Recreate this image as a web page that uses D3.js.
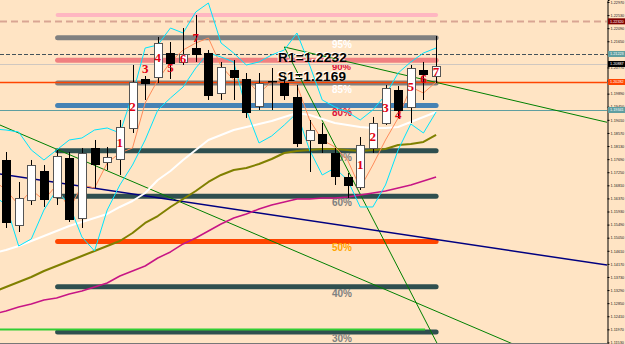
<!DOCTYPE html>
<html>
<head>
<meta charset="utf-8">
<script src="https://cdn.jsdelivr.net/npm/d3@7"></script>
<style>
  body { margin: 0; background: #FFE4C4; overflow: hidden; }
  #chart svg { display: block; }
</style>
</head>
<body>
<div id="chart"></div>
<script>
// ---- chart data (price units, one entry per bar) ----
// candles: [open, high, low, close]
const ohlc = [
  [1.17661, 1.17930, 1.15376, 1.15578],
  [1.15477, 1.16922, 1.15241, 1.16384],
  [1.16317, 1.17661, 1.16149, 1.17493],
  [1.17291, 1.17493, 1.16082, 1.16351],
  [1.16418, 1.17997, 1.16149, 1.17795],
  [1.17728, 1.17930, 1.15578, 1.15679],
  [1.15712, 1.18064, 1.15376, 1.17896],
  [1.18064, 1.18333, 1.16720, 1.17527],
  [1.17594, 1.18098, 1.17325, 1.17762],
  [1.17695, 1.19005, 1.17157, 1.18770],
  [1.18736, 1.20853, 1.18568, 1.20282],
  [1.20383, 1.20483, 1.19677, 1.20248],
  [1.20450, 1.21794, 1.20248, 1.21592],
  [1.21256, 1.21626, 1.20383, 1.20920],
  [1.20954, 1.22096, 1.20853, 1.21223],
  [1.21424, 1.22533, 1.20954, 1.21223],
  [1.21256, 1.21357, 1.19677, 1.19845],
  [1.19912, 1.20954, 1.19677, 1.20786],
  [1.20685, 1.21021, 1.19677, 1.20450],
  [1.20383, 1.20584, 1.19073, 1.19274],
  [1.19475, 1.20584, 1.19341, 1.20248],
  [1.20315, 1.20752, 1.19341, 1.20315],
  [1.20248, 1.20517, 1.19677, 1.19845],
  [1.19778, 1.20181, 1.18098, 1.18232],
  [1.18333, 1.19005, 1.17258, 1.18669],
  [1.18535, 1.18904, 1.17896, 1.18232],
  [1.17896, 1.18064, 1.16821, 1.17123],
  [1.17090, 1.17224, 1.16384, 1.16821],
  [1.16754, 1.18434, 1.16653, 1.18165],
  [1.18064, 1.19106, 1.17896, 1.18904],
  [1.18904, 1.20181, 1.18837, 1.20080],
  [1.20013, 1.20147, 1.19073, 1.19341],
  [1.19442, 1.20853, 1.18904, 1.20752],
  [1.20685, 1.20954, 1.19677, 1.20551],
  [1.20483, 1.21827, 1.20248, 1.20819]
];

// indicator series start one bar before the first visible candle (bar -1)
const bandUpper = [1.18703, 1.18669, 1.18602, 1.17997, 1.17661, 1.17997, 1.18333, 1.18400, 1.18669, 1.18736,
  1.18568, 1.19845, 1.21424, 1.21525, 1.22096, 1.21928, 1.22634, 1.22936, 1.21592, 1.21256,
  1.20853, 1.20954, 1.21189, 1.21357, 1.21928, 1.20853, 1.19677, 1.19442, 1.19274, 1.19005,
  1.19341, 1.19845, 1.20584, 1.20954, 1.21256, 1.21424];
const bandLower = [1.16485, 1.16149, 1.14771, 1.15007, 1.15981, 1.16653, 1.16149, 1.15074, 1.14603, 1.15981,
  1.16821, 1.17493, 1.18333, 1.19341, 1.19744, 1.20114, 1.20752, 1.21256, 1.21122, 1.20954,
  1.19341, 1.18232, 1.18467, 1.18837, 1.19240, 1.17997, 1.17157, 1.17392, 1.16989, 1.16082,
  1.16082, 1.16821, 1.17997, 1.18871, 1.18568, 1.19274];
const maFast = [1.16989, 1.16653, 1.16149, 1.16653, 1.16317, 1.16821, 1.15981, 1.16821, 1.16720, 1.17560,
  1.17896, 1.18064, 1.19576, 1.20349, 1.20954, 1.21357, 1.21592, 1.21760, 1.20819, 1.20349,
  1.20349, 1.19912, 1.20282, 1.20215, 1.20181, 1.19005, 1.18333, 1.18098, 1.17661, 1.16720,
  1.17493, 1.18333, 1.19072, 1.20114, 1.19912, 1.20282];
const maWhite = [1.14536, 1.14637, 1.14771, 1.14939, 1.15107, 1.15275, 1.15443, 1.15578, 1.15712, 1.15847,
  1.16082, 1.16283, 1.16552, 1.16989, 1.17291, 1.17661, 1.17997, 1.18333, 1.18501, 1.18669,
  1.18770, 1.18871, 1.18971, 1.19106, 1.19240, 1.19173, 1.19039, 1.18904, 1.18837, 1.18770,
  1.18736, 1.18736, 1.18770, 1.18938, 1.19106, 1.19274];
const maOlive = [1.13226, 1.13394, 1.13562, 1.13730, 1.13931, 1.14099, 1.14267, 1.14435, 1.14603, 1.14771,
  1.14939, 1.15208, 1.15544, 1.15779, 1.16082, 1.16351, 1.16619, 1.16922, 1.17157, 1.17325,
  1.17392, 1.17527, 1.17695, 1.17896, 1.17963, 1.17997, 1.18031, 1.18031, 1.17997, 1.17963,
  1.17997, 1.18031, 1.18165, 1.18199, 1.18266, 1.18501];
const maMagenta = [1.12487, 1.12587, 1.12722, 1.12823, 1.12957, 1.13024, 1.13159, 1.13259, 1.13394, 1.13528,
  1.13763, 1.13931, 1.14099, 1.14368, 1.14570, 1.14839, 1.15040, 1.15275, 1.15511, 1.15712,
  1.15847, 1.16015, 1.16149, 1.16250, 1.16351, 1.16351, 1.16384, 1.16384, 1.16418, 1.16485,
  1.16552, 1.16619, 1.16720, 1.16821, 1.16955, 1.17090];

// trend lines: [bar, price] anchor pairs
const navyTrend = [[0, 1.17157], [34, 1.14990]];
const greenTrendA = [[0, 1.18750], [30, 1.13306]];
const greenTrendB = [[22, 1.21458], [30, 1.14862]];
const greenTrendC = [[22, 1.21458], [34, 1.20268]];

// fibonacci retracement
const fibLow = 1.07316;
const fibHigh = 1.22533;
const fibLevels = [100, 95, 90, 85, 80, 70, 60, 50, 40, 30];
const fibFirstBar = 4;
const fibLastBar = 34;

// horizontal price lines
const r1Value = 1.2232;
const s1Value = 1.2169;
const r1Line = 1.22320;
const pivotLine = 1.21223;
const bidLine = 1.20887;
const s1Line = 1.20282;
const lowLine = 1.19341;
const greenLevel = 1.11983;

// wave counts: [bar, price, label]
const waveA = [[9, 1.18249, "1"], [10, 1.19475, "2"], [11, 1.20719, "3"], [12, 1.21105, "4"],
  [13, 1.20769, "5"], [14, 1.21088, "6"], [15, 1.21777, "7"]];
const waveB = [[28, 1.17510, "1"], [29, 1.18467, "2"], [30, 1.19425, "3"], [31, 1.19190, "4"],
  [32, 1.20147, "5"], [33, 1.20383, "6"], [34, 1.20651, "7"]];

// price axis tick labels
const yTicks = [1.22970, 1.22530, 1.22090, 1.21650, 1.21210, 1.20770, 1.20330, 1.19890, 1.19450,
  1.19010, 1.18570, 1.18130, 1.17690, 1.17250, 1.16810, 1.16370, 1.15930, 1.15490, 1.15050,
  1.14610, 1.14170, 1.13730, 1.13290, 1.12850, 1.12410, 1.11970, 1.11530];

// ---- drawing ----
const W = 625, H = 344;
const plotW = 607;

const svg = d3.select("#chart").append("svg")
  .attr("width", W).attr("height", H)
  .style("font-family", "Arial, 'Liberation Sans', sans-serif");

svg.append("rect").attr("width", W).attr("height", H).attr("fill", "#FFE4C4");

svg.append("defs").append("clipPath").attr("id", "plotClip")
  .append("rect").attr("width", plotW).attr("height", H);

const x = d3.scaleLinear().domain([0, 34]).range([6, 436.1]);
const y = d3.scaleLinear().domain([1.11478, 1.23037]).range([H, 0]);

const g = svg.append("g").attr("clip-path", "url(#plotClip)");

const barLeft = x.invert(-10), barRight = x.invert(plotW + 10);

// fib bars
const fibColor = {100: "#FFB6C1", 95: "#808080", 90: "#F08080", 85: "#808080", 80: "#4682B4",
  70: "#2F4F4F", 60: "#2F4F4F", 50: "#FF4500", 40: "#2F4F4F", 30: "#2F4F4F"};
const fibTextColor = {95: "#FFFFFF", 90: "#DC143C", 85: "#FFFFFF", 80: "#DC143C",
  70: "#808080", 60: "#808080", 50: "#FFA500", 40: "#808080", 30: "#808080"};
const fibPrice = L => fibLow + (fibHigh - fibLow) * L / 100;

g.append("g").selectAll("line").data(fibLevels).join("line")
  .attr("x1", x(fibFirstBar) + 1).attr("x2", x(fibLastBar))
  .attr("y1", d => y(fibPrice(d))).attr("y2", d => y(fibPrice(d)))
  .attr("stroke", d => fibColor[d])
  .attr("stroke-width", d => d === 100 ? 4 : 5)
  .attr("stroke-linecap", "round");

g.append("g").selectAll("text").data(fibLevels.filter(d => fibTextColor[d])).join("text")
  .attr("x", 332).attr("y", d => y(fibPrice(d)) + (d === 90 ? 9.5 : 10))
  .attr("fill", d => fibTextColor[d])
  .style("font-size", d => d === 90 ? "9.5px" : "10px").style("font-weight", "bold")
  .text(d => d + "%");

// full-width horizontal lines
const hline = (price, color, width, dash, x2 = plotW) => g.append("line")
  .attr("x1", 0).attr("x2", x2)
  .attr("y1", Math.round(y(price)) + 0.5).attr("y2", Math.round(y(price)) + 0.5)
  .attr("stroke", color).attr("stroke-width", width)
  .attr("stroke-dasharray", dash);

hline(r1Line, "#D9A593", 2, "7,4");
hline(pivotLine, "#44525A", 1, "4,2");
hline(bidLine, "#CFC7C0", 1, null);
hline(s1Line, "#FF4500", 1.5, null);
hline(lowLine, "#5F9EA0", 1, null);
hline(greenLevel, "#32CD32", 2, null, x(fibLastBar) - 11);

// trend lines
function trend(anchors, color, width, extendLeft) {
  const [[b0, p0], [b1, p1]] = anchors;
  const at = b => p0 + (p1 - p0) * (b - b0) / (b1 - b0);
  const start = extendLeft ? barLeft : b0;
  g.append("line")
    .attr("x1", x(start)).attr("y1", y(at(start)))
    .attr("x2", x(barRight)).attr("y2", y(at(barRight)))
    .attr("stroke", color).attr("stroke-width", width);
}
trend(greenTrendA, "#008000", 1, true);
trend(greenTrendB, "#008000", 1, false);
trend(greenTrendC, "#008000", 1, false);
trend(navyTrend, "#000080", 1.5, true);

// indicator lines
const ind = d3.line().x((d, i) => x(i - 1)).y(d => y(d));
const drawInd = (data, color, width) => g.append("path").datum(data)
  .attr("d", ind).attr("fill", "none")
  .attr("stroke", color).attr("stroke-width", width)
  .attr("stroke-linejoin", "round");

drawInd(maMagenta, "#C71585", 1.5);
drawInd(maOlive, "#808000", 2);
drawInd(maWhite, "#FFFFFF", 2);
drawInd(maFast, "#FF8C5A", 1);
drawInd(bandUpper, "#00E5FF", 1);
drawInd(bandLower, "#00E5FF", 1);

// candles
const cg = g.append("g");
const cx = i => Math.round(x(i));
cg.selectAll("line").data(ohlc).join("line")
  .attr("x1", (d, i) => cx(i) + 0.5).attr("x2", (d, i) => cx(i) + 0.5)
  .attr("y1", d => y(d[1])).attr("y2", d => y(d[2]))
  .attr("stroke", "#000").attr("stroke-width", 1);
cg.selectAll("rect").data(ohlc).join("rect")
  .attr("x", (d, i) => cx(i) - 4 + 0.5)
  .attr("y", d => Math.round(y(Math.max(d[0], d[3]))) + 0.5)
  .attr("width", 8)
  .attr("height", d => Math.max(0.5, Math.round(Math.abs(y(d[0]) - y(d[3])))))
  .attr("fill", d => d[3] > d[0] ? "#FFFFFF" : "#000000")
  .attr("stroke", d => d[3] > d[0] ? "#555" : "#000")
  .attr("stroke-width", 1);

// wave labels
svg.append("g").selectAll("text").data(waveA.concat(waveB)).join("text")
  .attr("x", d => x(d[0])).attr("y", d => y(d[1]))
  .attr("text-anchor", "middle").attr("dominant-baseline", "central")
  .attr("fill", "#E00010")
  .style("font-family", "'Liberation Serif', 'Times New Roman', serif")
  .style("font-size", "13px").style("font-weight", "bold")
  .text(d => d[2]);

// R1 / S1 annotations
[[`R1=${r1Value.toFixed(4)}`, 61.5], [`S1=${s1Value.toFixed(4)}`, 80.5]].forEach(([t, by]) => {
  svg.append("text").attr("x", 277).attr("y", by - 1).attr("fill", "#FFFFFF")
    .style("font-size", "13.5px").style("font-weight", "bold").style("letter-spacing", "0.3px").text(t);
  svg.append("text").attr("x", 278).attr("y", by).attr("fill", "#000000")
    .style("font-size", "13.5px").style("font-weight", "bold").style("letter-spacing", "0.3px").text(t);
});

// price axis
const axisG = svg.append("g").attr("transform", `translate(${plotW + 0.5},0)`)
  .call(d3.axisRight(y).tickValues(yTicks).tickSize(2).tickPadding(1).tickFormat(d3.format(".5f")));
axisG.select(".domain").attr("stroke", "#000");
axisG.selectAll("text").style("font-size", "3.8px").attr("fill", "#222");
axisG.selectAll(".tick line").attr("stroke", "#000");

const boxes = [[r1Line, "#800000"], [pivotLine, "#5F9EA0"], [bidLine, "#000000"],
  [s1Line, "#FF4500"], [lowLine, "#5F9EA0"]];
boxes.forEach(([p, c]) => {
  const yy = y(p);
  svg.append("rect").attr("x", plotW + 1).attr("y", yy - 3).attr("width", 17).attr("height", 6)
    .attr("fill", c);
  svg.append("text").attr("x", plotW + 3).attr("y", yy + 1.4).attr("fill", "#FFF")
    .style("font-size", "3.8px").text(d3.format(".5f")(p));
});

// bottom frame
svg.append("line").attr("x1", 0).attr("x2", plotW).attr("y1", H - 0.5).attr("y2", H - 0.5)
  .attr("stroke", "#777");
</script>
</body>
</html>
